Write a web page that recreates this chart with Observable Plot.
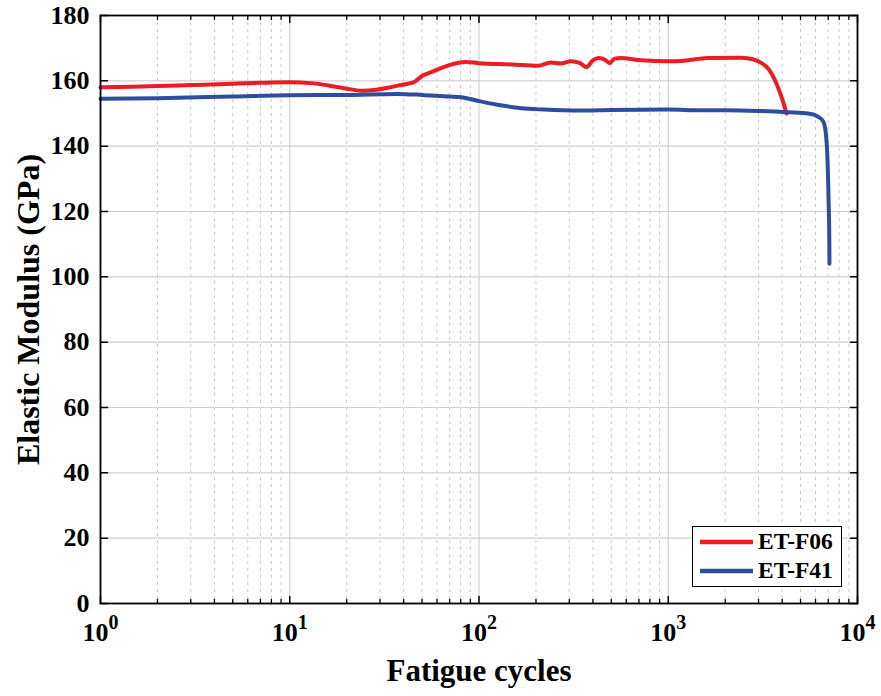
<!DOCTYPE html>
<html>
<head>
<meta charset="utf-8">
<script src="https://cdn.jsdelivr.net/npm/d3@7"></script>
<script src="https://cdn.jsdelivr.net/npm/@observablehq/plot@0.6"></script>
<style>
  body { margin: 0; background: #fff; }
  #wrap { position: relative; width: 881px; height: 696px; font-family: "Liberation Serif", "Times New Roman", serif; }
  #legend { position: absolute; left: 692px; top: 526px; width: 148px; height: 59px; border: 1.5px solid #000; background: #fff; }
  .lg-row { display: flex; align-items: center; height: 29px; font-weight: bold; font-size: 23.5px; }
  .lg-row svg { margin-left: 7px; margin-right: 5px; }
</style>
</head>
<body>
<div id="wrap"></div>
<script>
// ---- data ----
const seriesNames = ["ET-F06", "ET-F41"];
const seriesColors = ["#ec1c24", "#2e4da0"];

const f06Cycles = [1, 1.5, 2, 3, 5, 7, 10, 13, 16, 20, 24, 28, 33, 40, 45, 50, 55, 65, 75, 85, 100, 150, 205, 240, 270, 307, 340, 370, 400, 430, 465, 490, 520, 560, 720, 1000, 1170, 1620, 2430, 2800, 3100, 3400, 3640, 3800, 3970, 4100, 4215];
const f06Modulus = [158.0, 158.2, 158.4, 158.7, 159.1, 159.4, 159.6, 159.3, 158.6, 157.6, 157.0, 157.2, 157.9, 158.9, 159.5, 161.5, 162.5, 164.2, 165.3, 165.8, 165.4, 165.0, 164.6, 165.6, 165.3, 166.0, 165.5, 164.2, 166.3, 167.0, 166.4, 165.4, 166.8, 167.0, 166.3, 166.0, 166.1, 167.0, 167.1, 166.6, 165.5, 163.5, 160.5, 158.0, 155.0, 152.5, 150.0];

const f41Cycles = [1, 2, 5, 10, 20, 37, 50, 65, 80, 100, 130, 167, 220, 347, 500, 1000, 1500, 2000, 3000, 4300, 5500, 6200, 6600, 6800, 6950, 7050, 7100, 7110];
const f41Modulus = [154.5, 154.7, 155.2, 155.6, 155.7, 156.0, 155.7, 155.3, 155.0, 153.8, 152.5, 151.6, 151.2, 150.9, 151.1, 151.2, 151.0, 151.0, 150.8, 150.4, 150.0, 149.0, 147.5, 144.0, 135.0, 121.0, 110.0, 104.0];

const xMajorTicks = [1, 10, 100, 1000, 10000];
const xMinorTicks = [2,3,4,5,6,7,8,9, 20,30,40,50,60,70,80,90, 200,300,400,500,600,700,800,900, 2000,3000,4000,5000,6000,7000,8000,9000];
const yTicks = [0, 20, 40, 60, 80, 100, 120, 140, 160, 180];
const xLabel = "Fatigue cycles";
const yLabel = "Elastic Modulus (GPa)";

// ---- build table ----
const rows = [
  ...f06Cycles.map((c, i) => ({series: seriesNames[0], cycles: c, modulus: f06Modulus[i]})),
  ...f41Cycles.map((c, i) => ({series: seriesNames[1], cycles: c, modulus: f41Modulus[i]}))
];

const tickShape = { draw(context, l) { context.moveTo(0, 0); context.lineTo(0, -l); } };
const font = "Liberation Serif, Times New Roman, serif";

const chart = Plot.plot({
  width: 881,
  height: 696,
  marginLeft: 100,
  marginRight: 24,
  marginTop: 15,
  marginBottom: 93,
  style: { fontFamily: font, background: "#fff" },
  x: { type: "log", domain: [1, 10000] },
  y: { domain: [0, 180] },
  color: { domain: seriesNames, range: seriesColors },
  marks: [
    Plot.ruleX(xMinorTicks, { stroke: "#c8c8c8", strokeWidth: 1, strokeDasharray: "3,4" }),
    Plot.ruleX(xMajorTicks, { stroke: "#d0d0d0", strokeWidth: 1.2 }),
    Plot.ruleY(yTicks, { stroke: "#d0d0d0", strokeWidth: 1.2 }),
    Plot.line(rows, { x: "cycles", y: "modulus", z: "series", stroke: "series", strokeWidth: 4, curve: "monotone-x" }),
    // inward ticks
    Plot.vector(xMajorTicks, { x: d => d, frameAnchor: "bottom", length: 7, rotate: 0, anchor: "start", shape: tickShape, stroke: "#000", strokeWidth: 1.5 }),
    Plot.vector(xMinorTicks, { x: d => d, frameAnchor: "bottom", length: 4, rotate: 0, anchor: "start", shape: tickShape, stroke: "#000", strokeWidth: 1.3 }),
    Plot.vector(xMajorTicks, { x: d => d, frameAnchor: "top", length: 7, rotate: 180, anchor: "start", shape: tickShape, stroke: "#000", strokeWidth: 1.5 }),
    Plot.vector(xMinorTicks, { x: d => d, frameAnchor: "top", length: 4, rotate: 180, anchor: "start", shape: tickShape, stroke: "#000", strokeWidth: 1.3 }),
    Plot.vector(yTicks, { y: d => d, frameAnchor: "left", length: 7, rotate: 90, anchor: "start", shape: tickShape, stroke: "#000", strokeWidth: 1.5 }),
    Plot.vector(yTicks, { y: d => d, frameAnchor: "right", length: 7, rotate: -90, anchor: "start", shape: tickShape, stroke: "#000", strokeWidth: 1.5 }),
    Plot.frame({ stroke: "#000", strokeWidth: 1.8 }),
    Plot.axisX({ ticks: xMajorTicks, tickSize: 0, tickPadding: 19, tickFormat: d => String(Math.round(Math.log10(d))), fontSize: 26, fontWeight: "bold", fill: "#000", label: null }),
    Plot.axisY({ ticks: yTicks, tickSize: 0, tickPadding: 11, fontSize: 26, fontWeight: "bold", fill: "#000", label: null }),
    Plot.text([xLabel], { text: d => d, frameAnchor: "bottom", textAnchor: "middle", lineAnchor: "bottom", dy: 77, fontSize: 31, fontWeight: "bold", fill: "#000" }),
    Plot.text([yLabel], { text: d => d, frameAnchor: "left", textAnchor: "middle", lineAnchor: "middle", rotate: -90, dx: -72, dy: 0, fontSize: 32, fontWeight: "bold", fill: "#000" })
  ]
});

// superscript exponents on x tick labels
chart.querySelectorAll('[aria-label="x-axis tick label"] text').forEach(t => {
  const e = t.textContent;
  t.textContent = "10";
  const ts = document.createElementNS("http://www.w3.org/2000/svg", "tspan");
  ts.setAttribute("dy", "-12");
  ts.setAttribute("font-size", "20");
  ts.textContent = e;
  t.appendChild(ts);
});

const wrap = document.getElementById("wrap");
wrap.appendChild(chart);

// legend (inside plot area, as in the reference)
const legend = document.createElement("div");
legend.id = "legend";
seriesNames.forEach((name, i) => {
  const row = document.createElement("div");
  row.className = "lg-row";
  row.innerHTML = `<svg width="53" height="8"><line x1="0" y1="4" x2="53" y2="4" stroke="${seriesColors[i]}" stroke-width="4.5"/></svg><span>${name}</span>`;
  legend.appendChild(row);
});
wrap.appendChild(legend);
</script>
</body>
</html>
